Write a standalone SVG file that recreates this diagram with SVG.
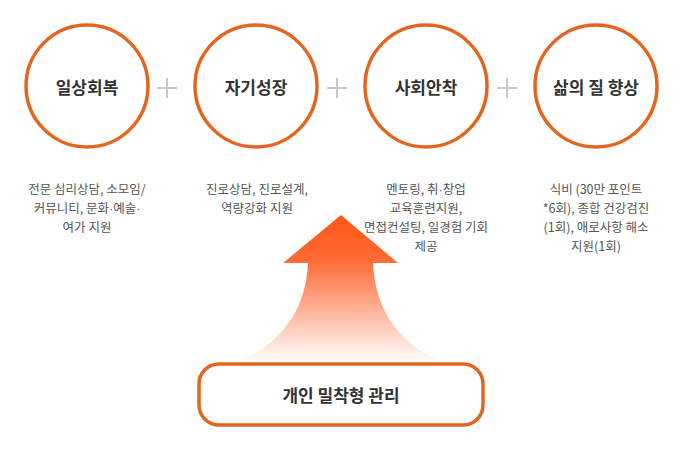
<svg xmlns="http://www.w3.org/2000/svg" width="687" height="457" viewBox="0 0 687 457">
<style>
.c{fill:#fff;stroke:#e4651f;stroke-width:3.5}
.t{font-family:"Noto Sans CJK KR","Noto Sans",sans-serif;font-size:17px;font-weight:700;fill:#333;text-anchor:middle}
.d{font-family:"Noto Sans CJK KR","Noto Sans",sans-serif;font-size:12.5px;fill:#555;text-anchor:middle}
.m{font-family:"Liberation Sans",sans-serif}
.p{stroke:#c8c8c8;stroke-width:2;fill:none}
</style>
<defs>
<linearGradient id="g" x1="0" y1="215" x2="0" y2="363" gradientUnits="userSpaceOnUse">
<stop offset="0" stop-color="#ff5719"/>
<stop offset="0.3" stop-color="#ff6a35"/>
<stop offset="1" stop-color="#ffffff"/>
</linearGradient>
</defs>
<g id="connectors">
<path class="p" d="M157,88h20M167,78v20"/>
<path class="p" d="M327,88h20M337,78v20"/>
<path class="p" d="M497,88h20M507,78v20"/>
<path id="arrow" fill="url(#g)" d="M341,215 L398,263 L373,263 C375,312 402,348 447,363 L233,363 C278,348 306,312 308,263 L283,263 Z"/>
</g>
<g id="node1"><circle class="c" cx="87" cy="86" r="61"/><text class="t" x="87" y="94">일상회복</text>
<text class="d"><tspan x="87" y="194">전문 심리상담, 소모임/</tspan><tspan x="87" y="213">커뮤니티, 문화<tspan class="m">·</tspan>예술<tspan class="m">·</tspan></tspan><tspan x="87" y="232">여가 지원</tspan></text></g>
<g id="node2"><circle class="c" cx="256" cy="86" r="61"/><text class="t" x="256" y="94">자기성장</text>
<text class="d"><tspan x="257" y="194">진로상담, 진로설계,</tspan><tspan x="257" y="213">역량강화 지원</tspan></text></g>
<g id="node3"><circle class="c" cx="426" cy="86" r="61"/><text class="t" x="426" y="94">사회안착</text>
<text class="d"><tspan x="426" y="194">멘토링, 취<tspan class="m">·</tspan>창업</tspan><tspan x="426" y="213">교육훈련지원,</tspan><tspan x="426" y="232">면접컨설팅, 일경험 기회</tspan><tspan x="426" y="251">제공</tspan></text></g>
<g id="node4"><circle class="c" cx="596" cy="86" r="61"/><text class="t" x="596" y="94">삶의 질 향상</text>
<text class="d"><tspan x="596" y="194">식비 (30만 포인트</tspan><tspan x="596" y="213">*6회), 종합 건강검진</tspan><tspan x="596" y="232">(1회), 애로사항 해소</tspan><tspan x="596" y="251">지원(1회)</tspan></text></g>
<g id="node5"><rect x="199" y="364" width="284" height="61" rx="20" fill="#fff" stroke="#e4651f" stroke-width="3.5"/><text class="t" x="341" y="402">개인 밀착형 관리</text></g>
</svg>
